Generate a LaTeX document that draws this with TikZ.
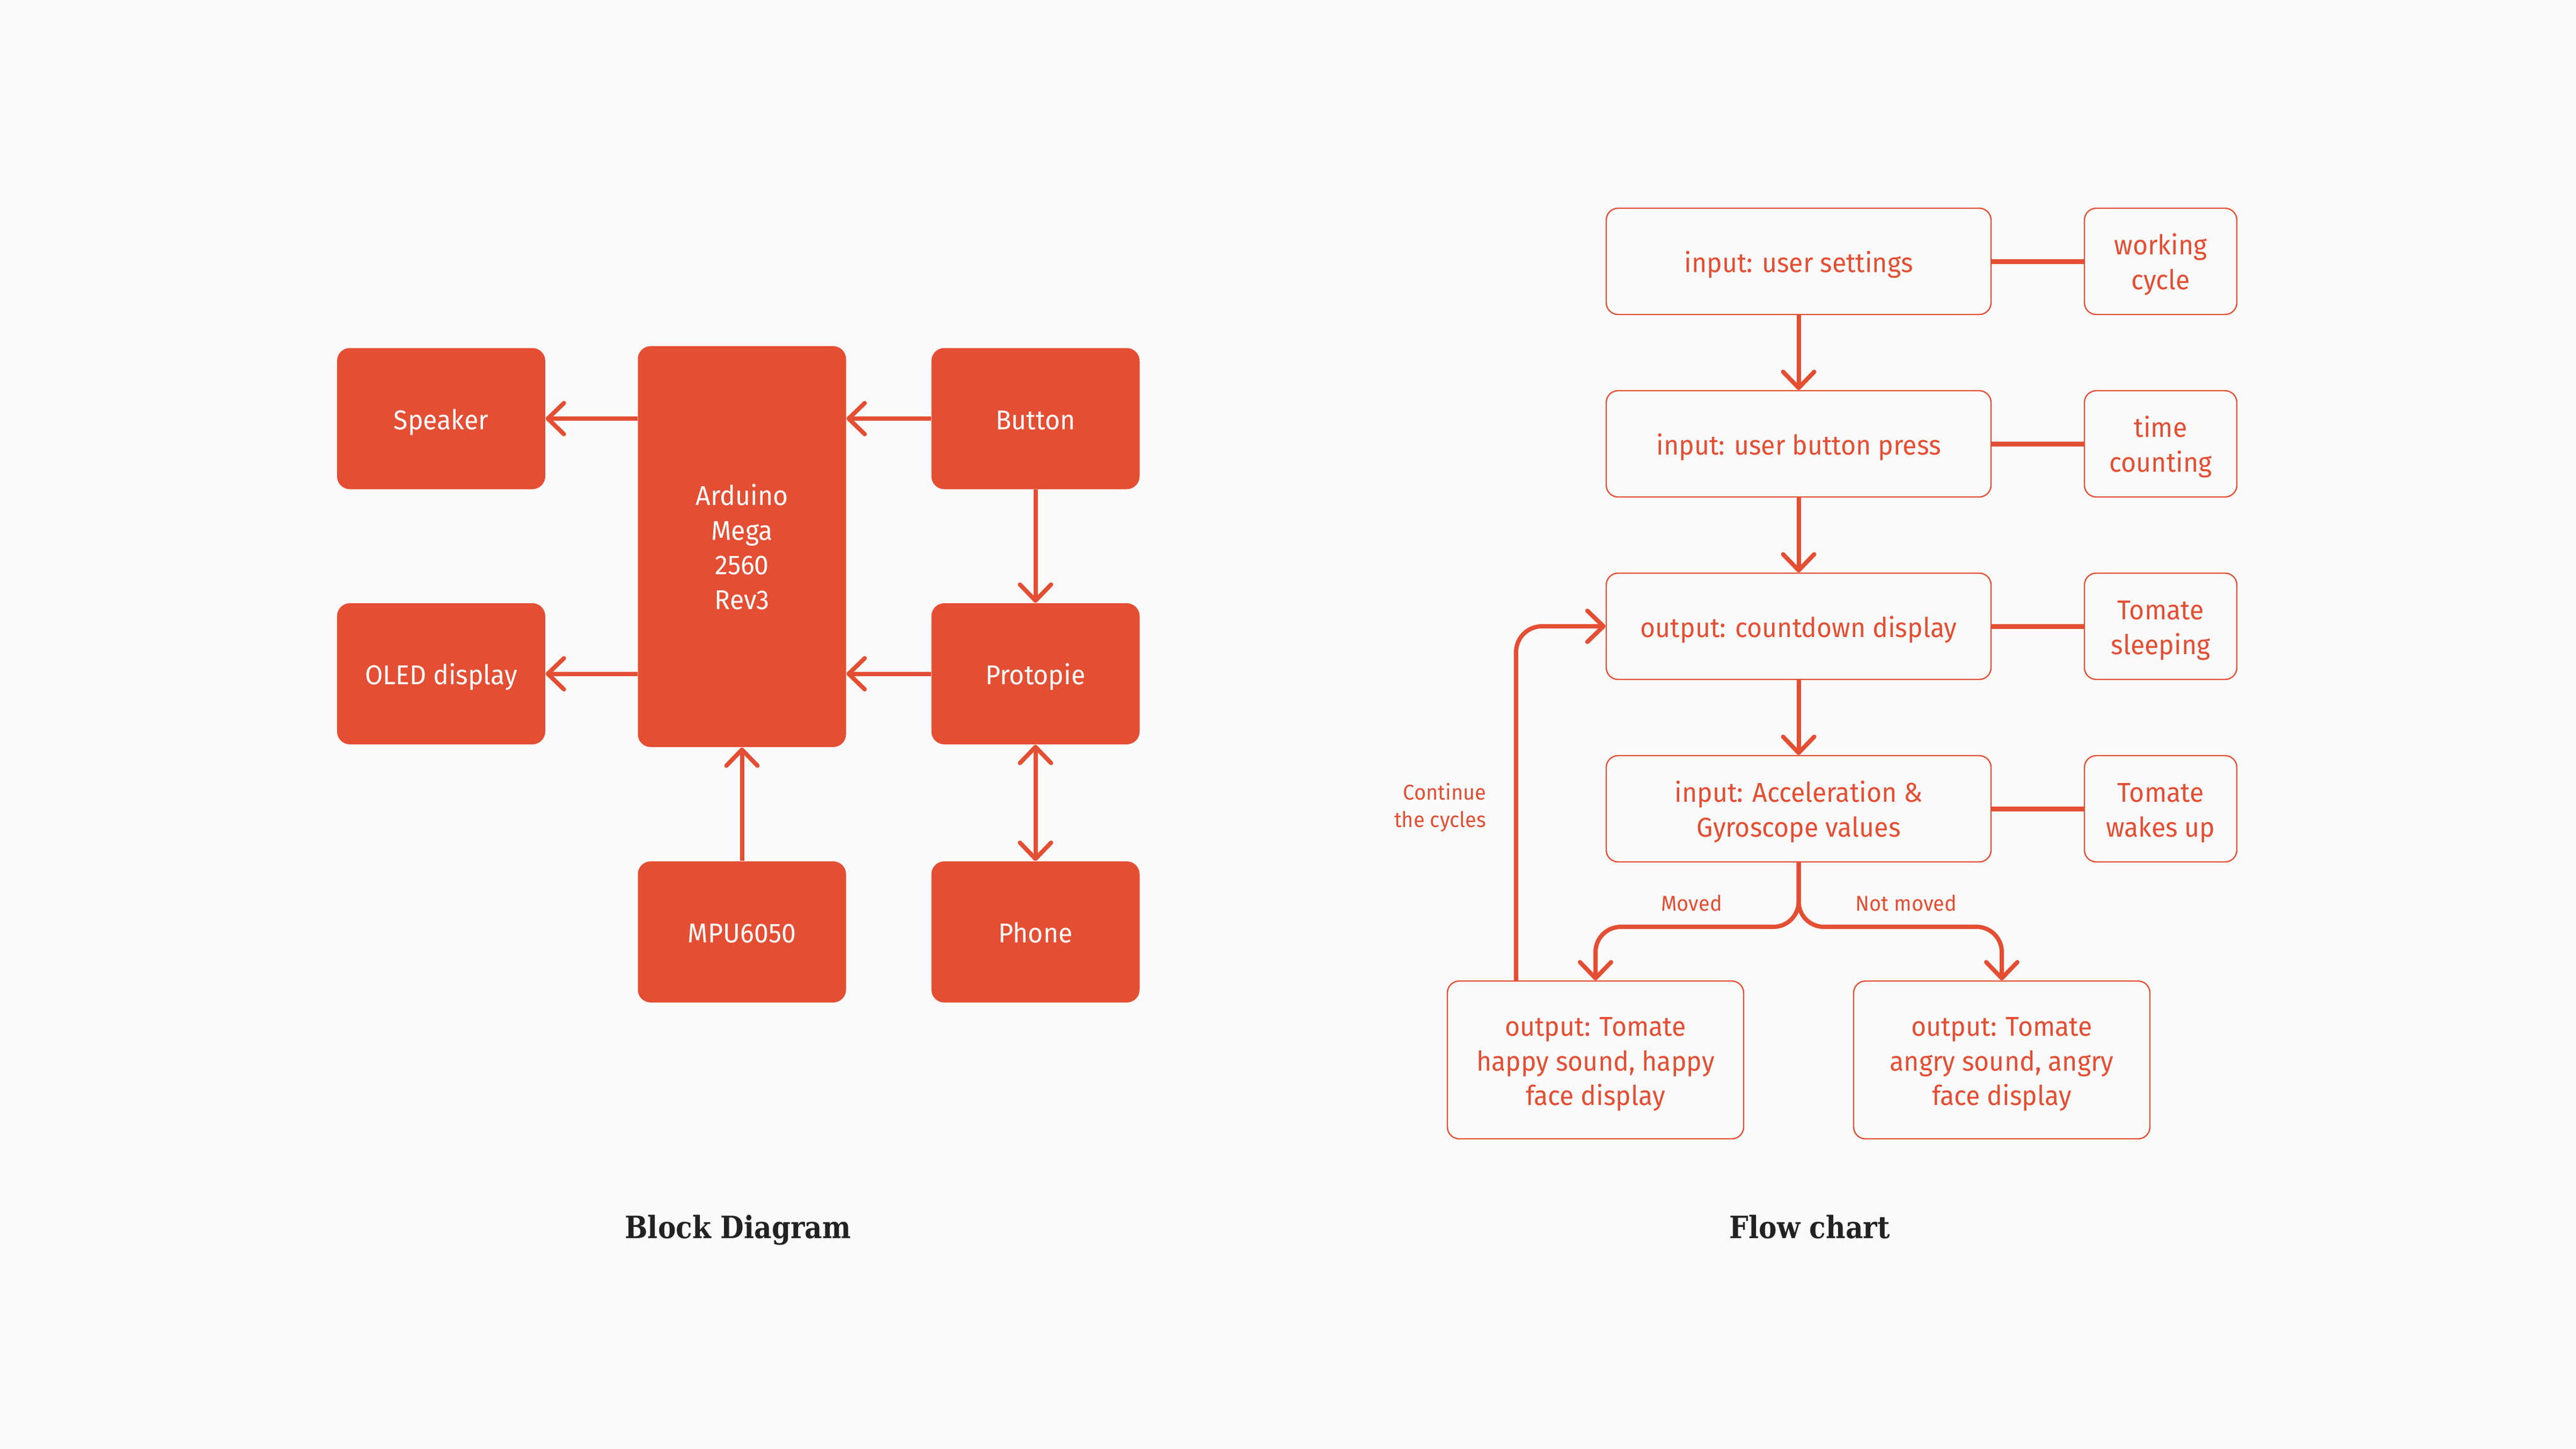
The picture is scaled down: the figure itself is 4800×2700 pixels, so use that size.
\documentclass[tikz,border=0pt]{standalone}
\usepackage{fontspec}
\setmainfont{Fira Sans}[FakeStretch=0.95]
\newfontfamily\titlefont{DejaVu Serif}[FakeStretch=0.88]
\usetikzlibrary{arrows.meta}
\definecolor{tred}{HTML}{E44E33}
\definecolor{bg}{HTML}{FAFAFA}
\definecolor{ttl}{HTML}{222222}
\newcommand{\mainfs}{\fontsize{12.7}{16.2}\selectfont}
\newcommand{\smallfs}{\fontsize{10}{12.8}\selectfont}
\newcommand{\titlefs}{\titlefont\bfseries\fontsize{14.3}{17}\selectfont}
% box text: lines stacked, baselines centred 5pt below the box centre
\newcommand{\bx}[1]{\raisebox{-1.76pt}[\height][\depth]{\begin{tabular}{@{}c@{}}#1\end{tabular}}}
\tikzset{
  blk/.style={fill=tred, draw=none, rounded corners=6pt, text=white, font=\mainfs,
    inner sep=0pt, minimum width=97pt, minimum height=65.75pt},
  fbx/.style={draw=tred, line width=0.6pt, rounded corners=5.5pt, text=tred, font=\mainfs,
    inner sep=0pt, minimum height=49.5pt},
  arr/.style={draw=tred, line width=2pt, -{Straight Barb[length=7.5pt,width=14.5pt,round]}},
  dblarr/.style={draw=tred, line width=2pt, {Straight Barb[length=7.5pt,width=14.5pt,round]}-{Straight Barb[length=7.5pt,width=14.5pt,round]}},
  side/.style={draw=tred, line width=2.25pt},
  lbl/.style={text=tred, font=\smallfs, inner sep=0pt},
  ttlnode/.style={text=ttl, font=\titlefs, inner sep=0pt}
}
\begin{document}
\begin{tikzpicture}[x=0.25pt,y=-0.25pt]
\fill[bg] (0,0) rectangle (4800,2700);

% ---------------- Block diagram ----------------
\node[blk] (spk) at (822,780) {\bx{Speaker}};
\node[blk, minimum height=186.75pt] (ard) at (1382.5,1018.5) {\bx{Arduino\\Mega\\2560\\Rev3}};
\node[blk] (btn) at (1929.5,780) {\bx{Button}};
\node[blk] (oled) at (822,1255.5) {\bx{OLED display}};
\node[blk] (proto) at (1929.5,1255.5) {\bx{Protopie}};
\node[blk] (mpu) at (1382.5,1736.5) {\bx{MPU6050}};
\node[blk] (phone) at (1929.5,1736.5) {\bx{Phone}};

\draw[arr] (ard.west |- spk.east) -- (spk.east);
\draw[arr] (ard.west |- oled.east) -- (oled.east);
\draw[arr] (btn.west) -- (btn.west -| ard.east);
\draw[arr] (proto.west) -- (proto.west -| ard.east);
\draw[arr] (btn.south) -- (proto.north);
\draw[arr] (mpu.north) -- (ard.south);
\draw[dblarr] (proto.south) -- (phone.north);

\node[ttlnode, anchor=base] (t1) at (1375,2307) {Block Diagram};

% ---------------- Flow chart ----------------
\node[fbx, minimum width=179.25pt] (b1) at (3351.5,487) {\bx{input: user settings}};
\node[fbx, minimum width=71pt] (s1) at (4026,487) {\bx{working\\cycle}};
\node[fbx, minimum width=179.25pt] (b2) at (3351.5,827) {\bx{input: user button press}};
\node[fbx, minimum width=71pt] (s2) at (4026,827) {\bx{time\\counting}};
\node[fbx, minimum width=179.25pt] (b3) at (3351.5,1167) {\bx{output: countdown display}};
\node[fbx, minimum width=71pt] (s3) at (4026,1167) {\bx{Tomate\\sleeping}};
\node[fbx, minimum width=179.25pt] (b4) at (3351.5,1507) {\bx{input: Acceleration \&\\Gyroscope values}};
\node[fbx, minimum width=71pt] (s4) at (4026,1507) {\bx{Tomate\\wakes up}};
\node[fbx, minimum width=138pt, minimum height=73.5pt] (o1) at (2973,1975) {\bx{output: Tomate\\happy sound, happy\\face display}};
\node[fbx, minimum width=138pt, minimum height=73.5pt] (o2) at (3730,1975) {\bx{output: Tomate\\angry sound, angry\\face display}};

\draw[side] (b1.east) -- (s1.west);
\draw[side] (b2.east) -- (s2.west);
\draw[side] (b3.east) -- (s3.west);
\draw[side] (b4.east) -- (s4.west);

\draw[arr] (b1.south) -- (b2.north);
\draw[arr] (b2.south) -- (b3.north);
\draw[arr] (b3.south) -- (b4.north);

\coordinate (hl) at (0,1727);
\draw[arr, rounded corners=11.75pt] (b4.south) -- (b4.south |- hl) -- (o1.north |- hl) -- (o1.north);
\draw[arr, rounded corners=11.75pt] (b4.south) -- (b4.south |- hl) -- (o2.north |- hl) -- (o2.north);

\coordinate (lx) at (2825,0);
\draw[arr, rounded corners=12pt] (lx |- o1.north) |- (b3.west);

\node[lbl, align=right, anchor=east] (cont) at (2770,1505) {Continue\\the cycles};
\node[lbl, anchor=base] (mv) at (3152,1697) {Moved};
\node[lbl, anchor=base] (nmv) at (3552,1697) {Not moved};

\node[ttlnode, anchor=base] (t2) at (3372,2307) {Flow chart};
\end{tikzpicture}
\end{document}
